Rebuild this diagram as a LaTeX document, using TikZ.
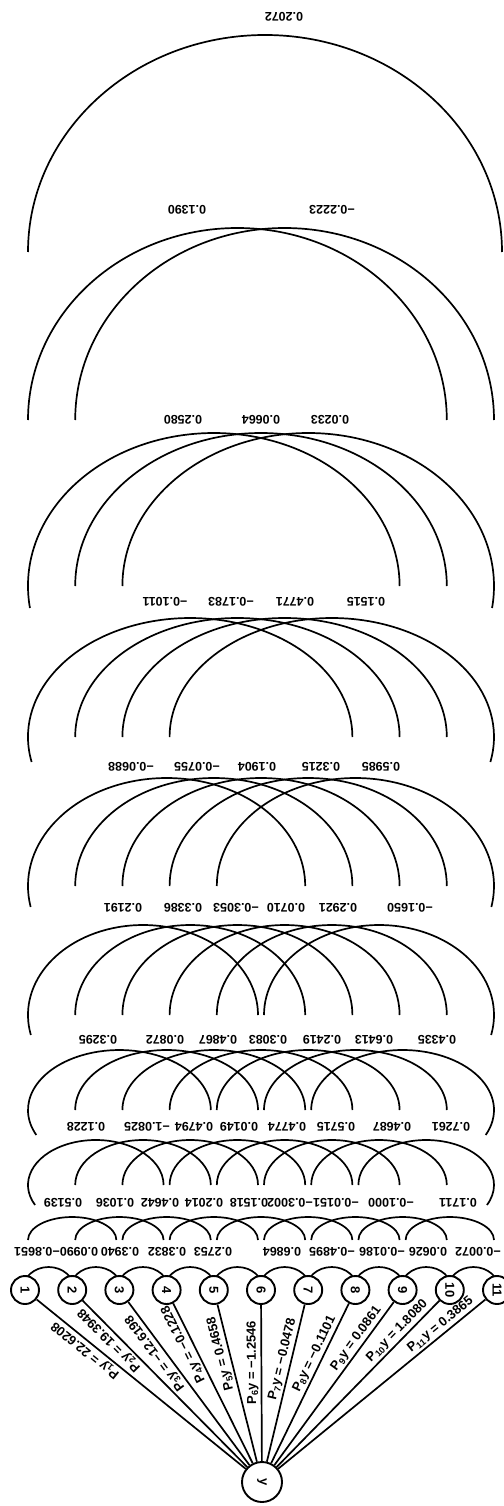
\documentclass[tikz,border=0pt]{standalone}
\usepackage{fontspec}
\setmainfont{Liberation Sans}
\usetikzlibrary{calc}

\begin{document}
\begin{tikzpicture}[x=1pt, y=1pt,
  var/.style={circle, draw, line width=1.9pt, fill=white, minimum size=28pt, inner sep=0pt, font=\bfseries\fontsize{13}{15}\selectfont, rotate=-90},
  resp/.style={var, minimum size=40pt},
  arco/.style={line width=1.7pt},
  lin/.style={line width=1.7pt},
  coef/.style={font=\bfseries\fontsize{12.5}{14}\selectfont, inner sep=0pt, rotate=180},
  peso/.style={font=\bfseries\fontsize{13}{15}\selectfont, sloped, allow upside down, above, inner sep=2pt}
]
\useasboundingbox (0,-1506) rectangle (503,0);
% arcos entre vecinos
\foreach \i in {1,...,10}
  \draw[arco] ({25+47.2*(\i-0.5)-26},-1290) arc[start angle=180, end angle=0, x radius=26, y radius=23];
% arcos de correlación (nivel, cima, base, prolongación)
\foreach \k/\cima/\base/\ext in {2/1217/1240/0, 3/1140/1185/20, 4/1050/1110/25, 5/925/1015/20, 6/778/886/21, 7/618/737/25, 8/433/586/22, 9/228/420/0}{
  \pgfmathtruncatemacro\n{11-\k}
  \pgfmathsetmacro\w{(47.2*\k-6)/2}
  \pgfmathsetmacro\h{\base-\cima}
  \pgfmathsetmacro\d{asin(\ext/\h)}
  \foreach \i in {1,...,\n}{
    \pgfmathsetmacro\cx{25+47.2*(\i-1)+23.6*\k}
    \pgfmathsetmacro\sa{ifthenelse(\i==1,180+\d,180)}
    \pgfmathsetmacro\ea{ifthenelse(\i==\n,-\d,0)}
    \pgfmathsetmacro\sx{\cx+\w*cos(\sa)}
    \pgfmathsetmacro\sy{-\base+\h*sin(\sa)}
    \draw[arco] (\sx,\sy) arc[start angle=\sa, end angle=\ea, x radius=\w, y radius=\h];
  }
}
\draw[arco] (28,-252) arc[start angle=180, end angle=0, x radius=237, y radius=217];
% coeficientes
\foreach \x/\t [count=\i] in {37/−0.8651, 79/0.0990, 120/0.3940, 167/0.3832, 213/0.2753, 282/0.6864, 332/−0.4895, 382/−0.0186, 428/0.0626, 478/−0.0072}
  \node[coef] (r1-\i) at (\x,-1252) {\t};
\foreach \x/\t [count=\i] in {63/0.5139, 115/0.1036, 160/0.4642, 204/0.2014, 249/0.1518, 290/−0.3002, 336/−0.0151, 391/−0.1000, 458/0.1711}
  \node[coef] (r2-\i) at (\x,-1203) {\t};
\foreach \x/\t [count=\i] in {86/0.1228, 147/−1.0825, 194/0.4794, 239/0.0149, 287/0.4774, 336/0.5715, 392/0.4687, 451/0.7261}
  \node[coef] (r3-\i) at (\x,-1127) {\t};
\foreach \x/\t [count=\i] in {98/0.3295, 165/0.0872, 218/0.4867, 268/0.3083, 322/0.2419, 374/0.6413, 437/0.4335}
  \node[coef] (r4-\i) at (\x,-1040) {\t};
\foreach \x/\t [count=\i] in {123/0.2191, 183/0.3386, 236/−0.3053, 286/0.0710, 338/0.2921, 410/−0.1650}
  \node[coef] (r5-\i) at (\x,-908) {\t};
\foreach \x/\t [count=\i] in {131/−0.0688, 197/−0.0755, 257/0.1904, 321/0.3215, 381/0.5985}
  \node[coef] (r6-\i) at (\x,-767) {\t};
\foreach \x/\t [count=\i] in {165/−0.1011, 231/−0.1783, 295/0.4771, 366/0.1515}
  \node[coef] (r7-\i) at (\x,-602) {\t};
\foreach \x/\t [count=\i] in {183/0.2580, 261/0.0664, 330/0.0233}
  \node[coef] (r8-\i) at (\x,-420) {\t};
\node[coef] (r9-1) at (187,-210) {0.1390};
\node[coef] (r9-2) at (332,-210) {−0.2223};
\node[coef] (r10-1) at (284,-17) {0.2072};
% variables
\node[var] (c1) at (25,-1290) {1};
\node[var] (c2) at (72.2,-1290) {2};
\node[var] (c3) at (119.4,-1290) {3};
\node[var] (c4) at (166.6,-1290) {4};
\node[var] (c5) at (213.8,-1290) {5};
\node[var] (c6) at (261,-1290) {6};
\node[var] (c7) at (308.2,-1290) {7};
\node[var] (c8) at (355.4,-1290) {8};
\node[var] (c9) at (402.6,-1290) {9};
\node[var] (c10) at (449.8,-1290) {10};
\node[var] (c11) at (497,-1290) {11};
\node[resp] (y) at (262,-1482) {y};
% efectos directos
\draw[lin] (y) -- node[peso, pos=0.74] {P\textsubscript{1}y = 22.6208} (c1);
\draw[lin] (y) -- node[peso, pos=0.80] {P\textsubscript{2}y = 19.3948} (c2);
\draw[lin] (y) -- node[peso, pos=0.72] {P\textsubscript{3}y = −12.6198} (c3);
\draw[lin] (y) -- node[peso, pos=0.77] {P\textsubscript{4}y = −0.1228} (c4);
\draw[lin] (y) -- node[peso, pos=0.70] {P\textsubscript{5}y = 0.4658} (c5);
\draw[lin] (y) -- node[peso, pos=0.63] {P\textsubscript{6}y = −1.2546} (c6);
\draw[lin] (y) -- node[peso, pos=0.64] {P\textsubscript{7}y = −0.0478} (c7);
\draw[lin] (y) -- node[peso, pos=0.66] {P\textsubscript{8}y = −0.1101} (c8);
\draw[lin] (y) -- node[peso, pos=0.745] {P\textsubscript{9}y = 0.0861} (c9);
\draw[lin] (y) -- node[peso, pos=0.78] {P\textsubscript{10}y = 1.8080} (c10);
\draw[lin] (y) -- node[peso, pos=0.81] {P\textsubscript{11}y = 0.3865} (c11);
\end{tikzpicture}
\end{document}
